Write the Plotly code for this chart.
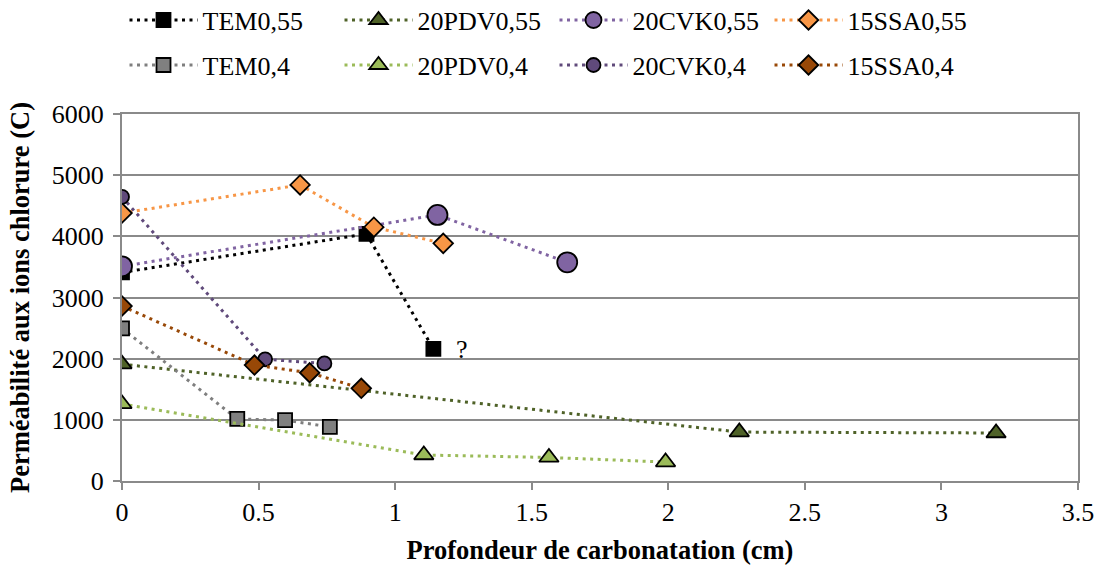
import plotly.graph_objects as go

# ---- data ----
series_names = ["TEM0,55", "20PDV0,55", "20CVK0,55", "15SSA0,55",
                "TEM0,4", "20PDV0,4", "20CVK0,4", "15SSA0,4"]

tem055_x = [0, 0.895, 1.14]
tem055_y = [3410, 4040, 2160]
pdv055_x = [0, 2.26, 3.2]
pdv055_y = [1910, 800, 785]
cvk055_x = [0, 1.155, 1.63]
cvk055_y = [3510, 4350, 3575]
ssa055_x = [0, 0.652, 0.922, 1.176]
ssa055_y = [4380, 4840, 4150, 3885]

tem04_x = [0, 0.422, 0.597, 0.761]
tem04_y = [2495, 1015, 995, 885]
pdv04_x = [0, 1.105, 1.563, 1.99]
pdv04_y = [1260, 425, 385, 310]
cvk04_x = [0, 0.524, 0.741]
cvk04_y = [4645, 1990, 1922]
ssa04_x = [0, 0.485, 0.687, 0.876]
ssa04_y = [2860, 1895, 1770, 1515]

xs = [tem055_x, pdv055_x, cvk055_x, ssa055_x, tem04_x, pdv04_x, cvk04_x, ssa04_x]
ys = [tem055_y, pdv055_y, cvk055_y, ssa055_y, tem04_y, pdv04_y, cvk04_y, ssa04_y]

x_ticks = [0, 0.5, 1, 1.5, 2, 2.5, 3, 3.5]
x_tick_labels = ["0", "0.5", "1", "1.5", "2", "2.5", "3", "3.5"]
y_ticks = [0, 1000, 2000, 3000, 4000, 5000, 6000]
y_tick_labels = ["0", "1000", "2000", "3000", "4000", "5000", "6000"]

note_text = "?"

# ---- styles ----
line_colors = ["#000000", "#4F6228", "#8064A2", "#F79646",
               "#7F7F7F", "#9BBB59", "#604A7B", "#984807"]
fill_colors = ["#000000", "#4F6228", "#8064A2", "#F79646",
               "#808080", "#9BBB59", "#604A7B", "#984807"]
symbols = ["square", "triangle-up", "circle", "diamond",
           "square", "triangle-up", "circle", "diamond"]
sizes = [14, 17, 20, 15, 14, 17, 14, 15]
legends = ["legend", "legend", "legend", "legend",
           "legend2", "legend2", "legend2", "legend2"]

FONT = "'Liberation Serif', 'Times New Roman', Tinos, 'DejaVu Serif', serif"
GRID = "#8A8A8A"

W, H = 1099, 566
L, T = 122, 114
R = W - 1078
B = H - 481
PH = H - T - B
PW = W - L - R

fig = go.Figure()
for i, name in enumerate(series_names):
    fig.add_trace(go.Scatter(
        x=xs[i], y=ys[i], name=name, mode="lines+markers",
        line=dict(color=line_colors[i], width=3, dash="3px,4.5px"),
        marker=dict(symbol=symbols[i], size=sizes[i], color=fill_colors[i],
                    line=dict(color="#000000", width=1.8)),
        legend=legends[i],
    ))

fig.add_annotation(x=tem055_x[-1], y=tem055_y[-1], text=note_text,
                   showarrow=False, xshift=29, yshift=-1,
                   font=dict(family=FONT, size=26, color="#000000"))

legend_common = dict(
    orientation="h", xanchor="left", yanchor="middle",
    font=dict(family=FONT, size=26, color="#000000"),
    bgcolor="rgba(0,0,0,0)", itemwidth=68,
    entrywidth=132, entrywidthmode="pixels",
    itemclick=False, itemdoubleclick=False,
)

leg_x = (130 - 5.5 - L) / PW
fig.update_layout(
    width=W, height=H,
    margin=dict(l=L, r=R, t=T, b=B, autoexpand=False),
    paper_bgcolor="white", plot_bgcolor="white",
    font=dict(family=FONT, size=26, color="#000000"),
    showlegend=True,
    legend=dict(x=leg_x, y=1 + (T - 20.1) / PH, **legend_common),
    legend2=dict(x=leg_x, y=1 + (T - 65.1) / PH, **legend_common),
    xaxis=dict(
        range=[0, 3.5], tickvals=x_ticks, ticktext=x_tick_labels,
        showgrid=False, zeroline=False, automargin=False,
        showline=True, linecolor=GRID, linewidth=2, mirror=True,
        ticks="outside", ticklen=7, tickwidth=2, tickcolor=GRID,
        tickfont=dict(family=FONT, size=26, color="#000000"),
        title=dict(text="<b>Profondeur de carbonatation (cm)</b>",
                   font=dict(family=FONT, size=26.5, color="#000000"), standoff=14),
    ),
    yaxis=dict(
        range=[0, 6000], tickvals=y_ticks, ticktext=y_tick_labels,
        showgrid=True, gridcolor=GRID, gridwidth=2, zeroline=False, automargin=False,
        showline=True, linecolor=GRID, linewidth=2, mirror=True,
        ticks="outside", ticklen=7, tickwidth=2, tickcolor=GRID,
        ticklabelstandoff=4,
        tickfont=dict(family=FONT, size=26, color="#000000"),
        title=dict(text="<b>Perméabilité aux ions chlorure (C)</b>",
                   font=dict(family=FONT, size=26.5, color="#000000"), standoff=15),
    ),
)

fig.write_html("out.html", config={"displayModeBar": False},
               post_script="document.body.style.margin='0px';")
